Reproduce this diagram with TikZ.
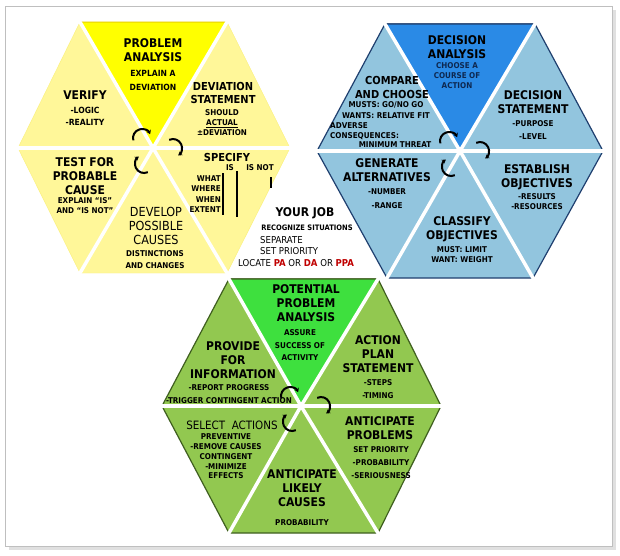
\documentclass[tikz,border=0pt]{standalone}
\usepackage{fontspec}
\setmainfont{DejaVu Sans Condensed}[BoldFont={DejaVu Sans Condensed Bold}]
\usepackage{tikz}
\usetikzlibrary{calc,positioning,arrows.meta}

\definecolor{ypale}{HTML}{FFF799}
\definecolor{ytop}{HTML}{FFFF00}
\definecolor{yline}{HTML}{E8D200}
\definecolor{bpale}{HTML}{92C5DE}
\definecolor{btop}{HTML}{2A8AE6}
\definecolor{bline}{HTML}{1F3F6F}
\definecolor{gpale}{HTML}{92C850}
\definecolor{gtop}{HTML}{3EE03E}
\definecolor{gline}{HTML}{3F5F1F}
\definecolor{navytext}{HTML}{0E2850}
\definecolor{pared}{HTML}{C00000}

\begin{document}
\begin{tikzpicture}[
    x=1pt, y=-1pt,
    title/.style={font=\bfseries\fontsize{12}{14}\selectfont, align=center, inner sep=0pt},
    small/.style={font=\bfseries\fontsize{8}{11}\selectfont, align=center, inner sep=0pt},
    gap/.style={white, line width=3.5pt},
    cyc/.style={-{Stealth[length=4pt,width=5pt]}, line width=2pt},
]
    \useasboundingbox (0,0) rectangle (620,555);

    % Frame
    \fill[black!12] (9,10) rectangle (616,550);
    \filldraw[fill=white, draw=black!25] (5,6) rectangle (612,546);

    % Yellow hexagon
    \coordinate (y-c) at (153,148);
    \coordinate (y-tl) at (80,22);   \coordinate (y-tr) at (227,22);
    \coordinate (y-r) at (290,148);  \coordinate (y-br) at (227,273);
    \coordinate (y-bl) at (80,273);  \coordinate (y-l) at (18,148);
    \filldraw[fill=ypale, draw=ypale!80!yline] (y-tl) -- (y-tr) -- (y-r) -- (y-br) -- (y-bl) -- (y-l) -- cycle;
    \filldraw[fill=ytop, draw=yline, line width=1pt] (y-c) -- (y-tl) -- (y-tr) -- cycle;
    \foreach \v in {tl,tr,r,br,bl,l} \draw[gap] (y-c) -- ($(y-c)!1.03!(y-\v)$);

    % Blue hexagon
    \coordinate (b-c) at (460,151);
    \coordinate (b-tl) at (385,24);  \coordinate (b-tr) at (535,24);
    \coordinate (b-r) at (603,151);  \coordinate (b-br) at (533,278);
    \coordinate (b-bl) at (387,278); \coordinate (b-l) at (317,151);
    \filldraw[fill=bpale, draw=bline, line width=1.2pt] (b-tl) -- (b-tr) -- (b-r) -- (b-br) -- (b-bl) -- (b-l) -- cycle;
    \filldraw[fill=btop, draw=bline, line width=1.2pt] (b-c) -- (b-tl) -- (b-tr) -- cycle;
    \foreach \v in {tl,tr,r,br,bl,l} \draw[gap] (b-c) -- ($(b-c)!1.03!(b-\v)$);

    % Green hexagon
    \coordinate (g-c) at (301,406);
    \coordinate (g-tl) at (229,279); \coordinate (g-tr) at (378,279);
    \coordinate (g-r) at (441,406);  \coordinate (g-br) at (378,533);
    \coordinate (g-bl) at (229,533); \coordinate (g-l) at (162,406);
    \filldraw[fill=gpale, draw=gline, line width=1.2pt] (g-tl) -- (g-tr) -- (g-r) -- (g-br) -- (g-bl) -- (g-l) -- cycle;
    \filldraw[fill=gtop, draw=gline, line width=1.2pt] (g-c) -- (g-tl) -- (g-tr) -- cycle;
    \foreach \v in {tl,tr,r,br,bl,l} \draw[gap] (g-c) -- ($(g-c)!1.03!(g-\v)$);

    % Cycle arrows
    \foreach \c in {y-c,b-c,g-c} {
        \draw[cyc] (\c) ++(-11,-10) ++(165:9) arc[start angle=165, end angle=335, radius=9];
        \draw[cyc] (\c) ++(20,0) ++(245:9) arc[start angle=245, end angle=415, radius=9];
        \draw[cyc] (\c) ++(-9,16) ++(65:9) arc[start angle=65, end angle=235, radius=9];
    }

    % Problem analysis
    \node[title] (pa) at (153,50) {PROBLEM\\ANALYSIS};
    \node[small, font=\bfseries\fontsize{8.5}{14}\selectfont] (pa-sub) at (153,80) {EXPLAIN A\\DEVIATION};
    \node[title] (verify) at (85,95) {VERIFY};
    \node[small, font=\bfseries\fontsize{8.5}{12}\selectfont] (verify-sub) at (85,116) {-LOGIC\\-REALITY};
    \node[title, font=\bfseries\fontsize{11}{13}\selectfont] (devstat) at (223,93) {DEVIATION\\STATEMENT};
    \node[small, font=\bfseries\fontsize{8}{10}\selectfont] (devstat-sub) at (222,123) {SHOULD\\\underline{ACTUAL}\\±DEVIATION};
    \node[title, font=\bfseries\fontsize{11}{13}\selectfont] (specify) at (227,157) {SPECIFY};
    \node[small] (spec-is) at (230,168) {IS};
    \node[small] (spec-isnot) at (260,168) {IS NOT};
    \node[small, align=right, anchor=east, font=\bfseries\fontsize{8}{10.5}\selectfont] (spec-dims) at (221,194) {WHAT\\WHERE\\WHEN\\EXTENT};
    \draw[line width=2pt] (223,173) -- (223,215);
    \draw[line width=2pt] (237,171) -- (237,217);
    \draw[line width=2pt] (271,177) -- (271,188);
    \node[title] (testcause) at (85,176) {TEST FOR\\PROBABLE\\CAUSE};
    \node[small, font=\bfseries\fontsize{8}{10}\selectfont] (testcause-sub) at (85,206) {EXPLAIN “IS”\\AND “IS NOT”};
    \node[title, font=\fontsize{12.5}{14}\selectfont] (develop) at (156,226) {DEVELOP\\POSSIBLE\\CAUSES};
    \node[small, font=\bfseries\fontsize{8}{12}\selectfont] (develop-sub) at (155,260) {DISTINCTIONS\\AND CHANGES};

    % Decision analysis
    \node[title] (da) at (457,47) {DECISION\\ANALYSIS};
    \node[small, text=navytext, font=\bfseries\fontsize{8}{10}\selectfont] (da-sub) at (457,76) {CHOOSE A\\COURSE OF\\ACTION};
    \node[title, font=\bfseries\fontsize{11}{14}\selectfont] (compare) at (392,87) {COMPARE\\AND CHOOSE};
    \node[small, font=\bfseries\fontsize{8}{11}\selectfont] (compare-sub) at (386,110.5) {MUSTS: GO/NO GO\\WANTS: RELATIVE FIT};
    \node[small, align=left, anchor=west, font=\bfseries\fontsize{8}{10}\selectfont] (compare-adv) at (330,131) {ADVERSE\\CONSEQUENCES:};
    \node[small] (compare-min) at (395,145) {MINIMUM THREAT};
    \node[title] (decstat) at (533,102) {DECISION\\STATEMENT};
    \node[small, font=\bfseries\fontsize{8}{13}\selectfont] (decstat-sub) at (533,130) {-PURPOSE\\-LEVEL};
    \node[title] (generate) at (387,170) {GENERATE\\ALTERNATIVES};
    \node[small, font=\bfseries\fontsize{8}{14}\selectfont] (generate-sub) at (387,199) {-NUMBER\\-RANGE};
    \node[title] (establish) at (537,177) {ESTABLISH\\OBJECTIVES};
    \node[small, font=\bfseries\fontsize{8}{10}\selectfont] (establish-sub) at (537,202) {-RESULTS\\-RESOURCES};
    \node[title] (classify) at (462,229.5) {CLASSIFY\\OBJECTIVES};
    \node[small, font=\bfseries\fontsize{8}{10}\selectfont] (classify-sub) at (462,255) {MUST: LIMIT\\WANT: WEIGHT};

    % Your job
    \node[title] (job) at (305,213) {YOUR JOB};
    \node[small, font=\bfseries\fontsize{7.5}{9}\selectfont] (job-recog) at (307,228) {RECOGNIZE SITUATIONS};
    \node[inner sep=0pt, anchor=west, align=left, font=\fontsize{9.5}{11.5}\selectfont] (job-list) at (260,245.5) {SEPARATE\\SET PRIORITY};
    \node[inner sep=0pt, anchor=west, font=\fontsize{9.5}{11.5}\selectfont] (job-locate) at (238,263)
        {LOCATE \textcolor{pared}{\bfseries PA} OR \textcolor{pared}{\bfseries DA} OR \textcolor{pared}{\bfseries PPA}};

    % Potential problem analysis
    \node[title] (ppa) at (306,303) {POTENTIAL\\PROBLEM\\ANALYSIS};
    \node[small, font=\bfseries\fontsize{8}{12.5}\selectfont] (ppa-sub) at (300,345.5) {ASSURE\\SUCCESS OF\\ACTIVITY};
    \node[title] (provide) at (233,360) {PROVIDE\\FOR\\INFORMATION};
    \node[small, font=\bfseries\fontsize{8}{13}\selectfont] (provide-sub) at (229,394.5) {-REPORT PROGRESS\\-TRIGGER CONTINGENT ACTION};
    \node[title] (actplan) at (378,354) {ACTION\\PLAN\\STATEMENT};
    \node[small, font=\bfseries\fontsize{8}{13}\selectfont] (actplan-sub) at (378,389.5) {-STEPS\\-TIMING};
    \node[title, font=\fontsize{11.5}{14}\selectfont] (select) at (232,425) {SELECT\ \ ACTIONS};
    \node[small, font=\bfseries\fontsize{8}{9.75}\selectfont] (select-sub) at (226,456.5) {PREVENTIVE\\-REMOVE CAUSES\\CONTINGENT\\-MINIMIZE\\EFFECTS};
    \node[title] (antprob) at (380,428) {ANTICIPATE\\PROBLEMS};
    \node[small, font=\bfseries\fontsize{8}{13}\selectfont] (antprob-sub) at (381,463) {SET PRIORITY\\-PROBABILITY\\-SERIOUSNESS};
    \node[title] (antcause) at (302,488) {ANTICIPATE\\LIKELY\\CAUSES};
    \node[small] (antcause-sub) at (302,523) {PROBABILITY};
\end{tikzpicture}
\end{document}
